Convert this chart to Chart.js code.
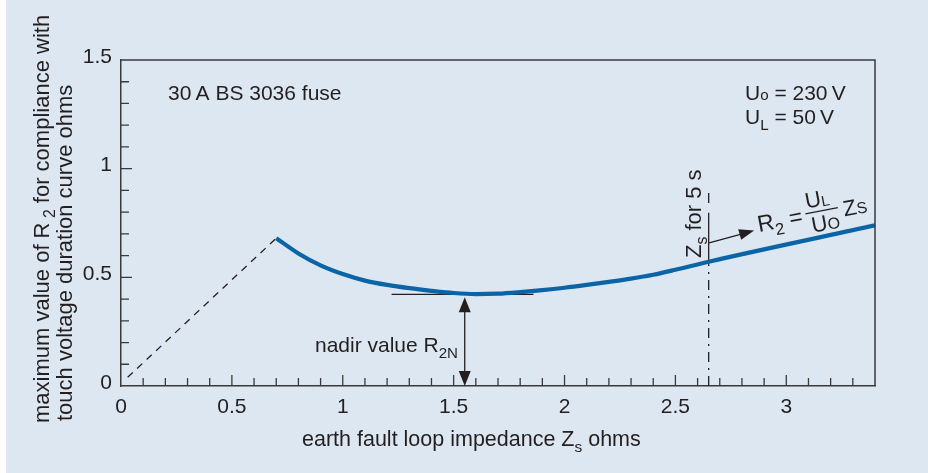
<!DOCTYPE html>
<html>
<head>
<meta charset="utf-8">
<script src="https://cdn.jsdelivr.net/npm/chart.js@4.4.1/dist/chart.umd.min.js"></script>
<style>
  html, body { margin: 0; padding: 0; background: #fff; }
  #wrap { width: 928px; height: 473px; }
</style>
</head>
<body>
<div id="wrap"><canvas id="chart" width="928" height="473"></canvas></div>
<script>
// max R2 (ohms) against earth fault loop impedance Zs, 30 A BS 3036 fuse
const curveZs = [0.7, 0.8, 0.9, 1.0, 1.1, 1.2, 1.3, 1.4, 1.5, 1.6, 1.7, 1.8, 1.9, 2.0, 2.1, 2.2, 2.3, 2.4, 2.5, 2.65, 3.4];
const curveR2 = [0.68, 0.61, 0.555, 0.515, 0.485, 0.465, 0.45, 0.438, 0.428, 0.423, 0.425, 0.432, 0.441, 0.452, 0.465, 0.479, 0.494, 0.512, 0.535, 0.572, 0.739];

// dashed lead-in below 0.7 ohm
const leadZs = [0.03, 0.7];
const leadR2 = [0.04, 0.68];

// nadir marker
const nadirZs = [1.22, 1.86];
const nadirR2 = 0.422;
const nadirArrowZs = 1.55;

// Zs giving 5 s disconnection
const zs5s = 2.65;
const zs5sLower = [0, 0.56];
const zs5sSolid = [0.56, 0.797];
const zs5sTop = [0.842, 0.888];
const pointerFrom = [2.652, 0.658];
const pointerTo = [2.855, 0.716];

const xTickLabels = ['0', '0.5', '1', '1.5', '2', '2.5', '3'];
const yTickLabels = ['0', '0.5', '1', '1.5'];

const BG = '#dde7f1';
const INK = '#231f20';
const BLUE = '#0b64a6';
const FONT = '"Liberation Sans", Arial, sans-serif';

const pts = (xs, ys) => xs.map((x, i) => ({ x, y: Array.isArray(ys) ? ys[i] : ys }));
const isHalf = v => Math.abs(v * 2 - Math.round(v * 2)) < 1e-6;
const halfLabel = (list, v) => isHalf(v) ? (list[Math.round(v * 2)] ?? '') : '';

// text with sub/small runs: parts = [[text, mode]]
function measureRich(ctx, parts, size) {
  let w = 0;
  parts.forEach(([t, mode]) => {
    ctx.font = `${mode ? size * 0.72 : size}px ${FONT}`;
    w += ctx.measureText(t).width;
  });
  return w;
}
function drawRich(ctx, parts, x, y, size, align) {
  let cx = align === 'right' ? x - measureRich(ctx, parts, size) : x;
  ctx.textAlign = 'left';
  ctx.textBaseline = 'alphabetic';
  parts.forEach(([t, mode]) => {
    const fs = mode ? size * 0.72 : size;
    ctx.font = `${fs}px ${FONT}`;
    const dy = mode === 'sub' ? size * 0.28 : 0;
    ctx.fillText(t, cx, y + dy);
    cx += ctx.measureText(t).width;
  });
}

function arrowHead(ctx, x1, y1, x2, y2, len, half) {
  const a = Math.atan2(y2 - y1, x2 - x1);
  ctx.beginPath();
  ctx.moveTo(x2, y2);
  ctx.lineTo(x2 - len * Math.cos(a) + half * Math.sin(a), y2 - len * Math.sin(a) - half * Math.cos(a));
  ctx.lineTo(x2 - len * Math.cos(a) - half * Math.sin(a), y2 - len * Math.sin(a) + half * Math.cos(a));
  ctx.closePath();
  ctx.fill();
}

const backdrop = {
  id: 'backdrop',
  beforeDraw(chart) {
    const ctx = chart.ctx;
    ctx.save();
    ctx.fillStyle = BG;
    ctx.fillRect(6, 0, chart.width - 6, chart.height);
    ctx.restore();
  }
};

const frameAndNotes = {
  id: 'frameAndNotes',
  afterDraw(chart) {
    const { ctx, chartArea: a, scales: { x, y } } = chart;
    ctx.save();
    ctx.strokeStyle = '#3a3a3c';
    ctx.lineWidth = 1.5;
    // top and right frame
    ctx.beginPath();
    ctx.moveTo(a.left, a.top);
    ctx.lineTo(a.right, a.top);
    ctx.lineTo(a.right, a.bottom);
    ctx.stroke();

    // inward ticks every 0.1
    ctx.lineWidth = 1.3;
    ctx.beginPath();
    for (let i = 1; i < 34; i++) {
      const px = x.getPixelForValue(i / 10);
      const len = i % 5 === 0 ? 11 : 8;
      ctx.moveTo(px, a.bottom);
      ctx.lineTo(px, a.bottom - len);
    }
    for (let i = 1; i < 15; i++) {
      const py = y.getPixelForValue(i / 10);
      const len = i % 5 === 0 ? 11 : 8;
      ctx.moveTo(a.left, py);
      ctx.lineTo(a.left + len, py);
    }
    ctx.stroke();

    ctx.fillStyle = INK;
    ctx.strokeStyle = INK;

    // nadir double arrow
    const nx = x.getPixelForValue(nadirArrowZs);
    const nTop = y.getPixelForValue(nadirR2) + 3;
    const nBot = y.getPixelForValue(0);
    ctx.lineWidth = 1.3;
    ctx.beginPath();
    ctx.moveTo(nx, nTop + 10);
    ctx.lineTo(nx, nBot - 10);
    ctx.stroke();
    arrowHead(ctx, nx, nBot, nx, nTop, 15, 6);
    arrowHead(ctx, nx, nTop, nx, nBot, 15, 6);

    // pointer to formula
    const p1x = x.getPixelForValue(pointerFrom[0]), p1y = y.getPixelForValue(pointerFrom[1]);
    const p2x = x.getPixelForValue(pointerTo[0]), p2y = y.getPixelForValue(pointerTo[1]);
    ctx.beginPath();
    ctx.moveTo(p1x, p1y);
    ctx.lineTo(p2x - 10, p2y + 3);
    ctx.stroke();
    arrowHead(ctx, p1x, p1y, p2x, p2y, 15, 5.5);

    // labels inside the plot
    drawRich(ctx, [['30\u2009A BS 3036 fuse']], 168, 100, 21);
    drawRich(ctx, [['U'], ['o', 'small'], [' = 230\u2009V']], 745, 100, 21);
    drawRich(ctx, [['U'], ['L', 'sub'], [' = 50\u2009V']], 745, 124, 21);
    drawRich(ctx, [['nadir value R'], ['2N', 'sub']], 458, 352, 21, 'right');

    // Zs for 5 s, vertical
    ctx.save();
    ctx.translate(x.getPixelForValue(zs5s) - 8, 258);
    ctx.rotate(-Math.PI / 2);
    drawRich(ctx, [['Z'], ['s', 'sub'], [' for 5 s']], 0, 0, 22);
    ctx.restore();

    // R2 = UL/UO Zs, tilted
    ctx.save();
    ctx.translate(759, 232);
    ctx.rotate(-0.19);
    drawRich(ctx, [['R'], ['2', 'sub'], [' =']], 0, 0, 23);
    ctx.textAlign = 'left';
    const fx = 65;
    ctx.font = `22px ${FONT}`;
    ctx.fillText('U', fx - 14, -14);
    ctx.fillText('U', fx - 12, 11);
    ctx.font = `15px ${FONT}`;
    ctx.fillText('L', fx + 2, -13);
    ctx.font = `16px ${FONT}`;
    ctx.fillText('O', fx + 4, 11);
    ctx.lineWidth = 1.4;
    ctx.beginPath();
    ctx.moveTo(fx - 16, -9);
    ctx.lineTo(fx + 17, -9);
    ctx.stroke();
    drawRich(ctx, [['Z'], ['S', 'small']], fx + 22, 1, 22);
    ctx.restore();

    // axis titles
    drawRich(ctx, [['earth fault loop impedance Z'], ['s', 'sub'], [' ohms']], 302, 446, 21.5);
    ctx.save();
    ctx.translate(49, 423);
    ctx.rotate(-Math.PI / 2);
    drawRich(ctx, [['maximum value of R'], [' 2', 'sub'], [' for compliance with']], 0, 0, 22);
    ctx.restore();
    ctx.save();
    ctx.translate(72, 421);
    ctx.rotate(-Math.PI / 2);
    drawRich(ctx, [['touch voltage duration curve ohms']], 0, 0, 22);
    ctx.restore();

    ctx.restore();
  }
};

const thin = (data, extra) => Object.assign({
  data, borderColor: INK, borderWidth: 1.3, pointRadius: 0, fill: false
}, extra);

new Chart(document.getElementById('chart'), {
  type: 'line',
  data: {
    datasets: [
      { data: pts(curveZs, curveR2), borderColor: BLUE, borderWidth: 4.2, pointRadius: 0,
        cubicInterpolationMode: 'monotone', borderCapStyle: 'butt' },
      thin(pts(leadZs, leadR2), { borderDash: [7, 6] }),
      thin(pts(nadirZs, nadirR2)),
      thin(pts([zs5s, zs5s], zs5sLower), { borderDash: [10, 6, 2, 6] }),
      thin(pts([zs5s, zs5s], zs5sSolid)),
      thin(pts([zs5s, zs5s], zs5sTop))
    ]
  },
  options: {
    responsive: false,
    animation: false,
    devicePixelRatio: 1,
    layout: { padding: { left: 0, right: 53, top: 60, bottom: 0 } },
    plugins: { legend: { display: false }, tooltip: { enabled: false } },
    scales: {
      x: {
        type: 'linear', min: 0, max: 3.4,
        grid: { display: false },
        border: { display: true, color: '#3a3a3c', width: 1.5 },
        ticks: {
          stepSize: 0.1, autoSkip: false, maxRotation: 0, padding: 1,
          color: INK, font: { family: FONT, size: 21 },
          callback: v => halfLabel(xTickLabels, v)
        },
        afterFit: s => { s.height = 87; }
      },
      y: {
        min: 0, max: 1.5,
        grid: { display: false },
        border: { display: true, color: '#3a3a3c', width: 1.5 },
        ticks: {
          stepSize: 0.1, autoSkip: false, padding: 1, labelOffset: -3,
          color: INK, font: { family: FONT, size: 21 },
          callback: v => halfLabel(yTickLabels, v)
        },
        afterFit: s => { s.width = 121; }
      }
    }
  },
  plugins: [backdrop, frameAndNotes]
});
</script>
</body>
</html>
